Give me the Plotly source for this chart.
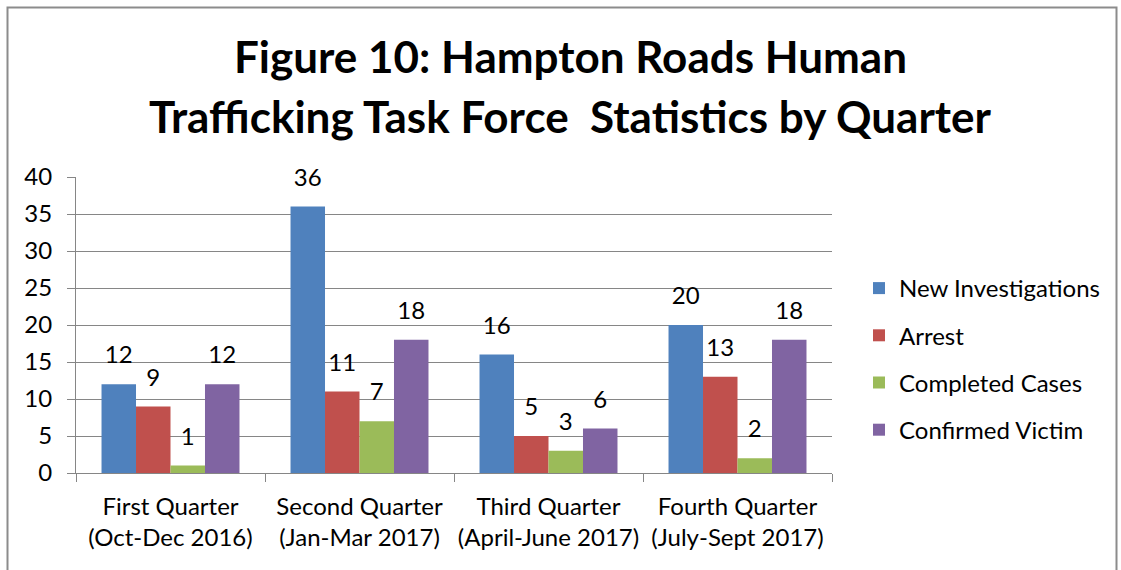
import plotly.graph_objects as go

categories = ["First Quarter<br>(Oct-Dec 2016)", "Second Quarter<br>(Jan-Mar 2017)",
              "Third Quarter<br>(April-June 2017)", "Fourth Quarter<br>(July-Sept 2017)"]
series_names = ["New Investigations", "Arrest", "Completed Cases", "Confirmed Victim"]
new_investigations = [12, 36, 16, 20]
arrest = [9, 11, 5, 13]
completed_cases = [1, 7, 3, 2]
confirmed_victim = [12, 18, 6, 18]
colors = ["#4F81BD", "#C0504D", "#9BBB59", "#8064A2"]
title_lines = ["Figure 10: Hampton Roads Human", "Trafficking Task Force  Statistics by Quarter"]

FONT = "Lato, 'Open Sans', sans-serif"
fig = go.Figure()
all_vals = [new_investigations, arrest, completed_cases, confirmed_victim]
for name, vals, col in zip(series_names, all_vals, colors):
    fig.add_trace(go.Bar(
        x=categories, y=vals, name=name, marker=dict(color=col, line=dict(width=0)),
        offsetgroup=name, legendgroup=name,
    ))
for name, vals, col in zip(series_names, all_vals, colors):
    fig.add_trace(go.Scatter(
        x=categories, y=vals, mode="markers+text", offsetgroup=name, legendgroup=name,
        text=[str(v) for v in vals], textposition="top center",
        textfont=dict(size=24, color="black", family=FONT),
        marker=dict(size=22, opacity=0), showlegend=False, cliponaxis=False,
        hoverinfo="skip",
    ))

W, H = 1121, 570
ml, mr, mt, mb = 76, 289, 177, 97
pw, ph = W - ml - mr, H - mt - mb

def px_x(x):
    return (x - ml) / pw

def px_y(y):
    return (H - mb - y) / ph

fig.update_layout(
    width=W, height=H,
    margin=dict(l=ml, r=mr, t=mt, b=mb, pad=0, autoexpand=False),
    paper_bgcolor="white", plot_bgcolor="white",
    barmode="group", bargap=0.27, bargroupgap=0,
    scattermode="group", scattergap=0.27,
    font=dict(family=FONT, size=24, color="black"),
    showlegend=True,
    legend=dict(x=px_x(859), y=px_y(359), xanchor="left", yanchor="middle",
                font=dict(size=24, family=FONT), tracegroupgap=13,
                traceorder="grouped", itemwidth=30, bgcolor="rgba(0,0,0,0)"),
)
fig.update_yaxes(range=[0, 40], dtick=5, showgrid=True, gridcolor="#868686", gridwidth=1,
                 showline=True, linecolor="#868686", linewidth=1, ticks="outside",
                 ticklen=8, tickcolor="#868686", zeroline=False,
                 tickfont=dict(size=24, family=FONT), ticklabelstandoff=10)
fig.update_xaxes(showline=True, linecolor="#868686", linewidth=1, ticks="outside",
                 tickson="boundaries", ticklen=8, tickcolor="#868686", tickangle=0,
                 tickfont=dict(size=24, family=FONT), ticklabelstandoff=12)

for i, line in enumerate(title_lines):
    fig.add_annotation(text="<b>" + line + "</b>", xref="paper", yref="paper",
                       x=px_x(570), y=px_y(56 + 60 * i), xanchor="center", yanchor="middle",
                       showarrow=False, font=dict(size=44, family=FONT, color="black"))

fig.add_shape(type="rect", xref="paper", yref="paper",
              x0=px_x(7.5), x1=px_x(1116.5), y0=px_y(585), y1=px_y(7.5),
              line=dict(color="#8C8C8C", width=2), fillcolor="rgba(0,0,0,0)", layer="below")

fig.write_html("out.html", config={"displayModeBar": False},
               post_script="document.body.style.margin='0';document.body.style.overflow='hidden';")
